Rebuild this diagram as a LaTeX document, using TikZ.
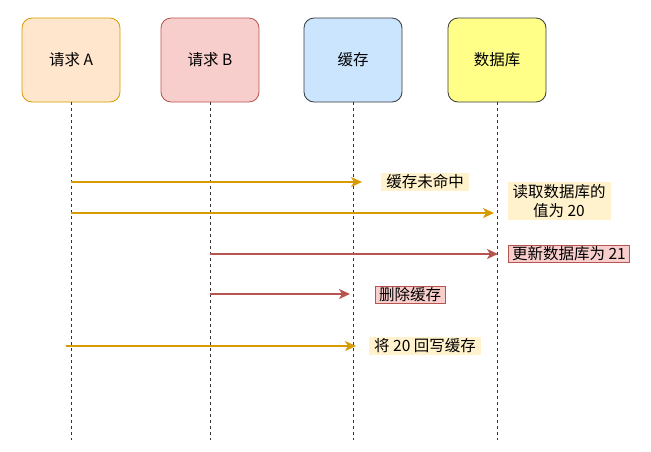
\documentclass[tikz,border=0pt]{standalone}
\usepackage{fontspec}
\setmainfont{Noto Sans CJK SC}
\usetikzlibrary{arrows.meta}
\definecolor{orangefill}{HTML}{FFE6CC}
\definecolor{orangeline}{HTML}{D79B00}
\definecolor{redfill}{HTML}{F8CECC}
\definecolor{redline}{HTML}{B85450}
\definecolor{bluefill}{HTML}{CCE5FF}
\definecolor{yellowfill}{HTML}{FFFF88}
\definecolor{darkline}{HTML}{36393D}
\definecolor{notefill}{HTML}{FFF2CC}
\tikzset{
  actor/.style={draw,rounded corners=10pt,minimum width=98pt,minimum height=84pt,inner sep=0pt,line width=0.8pt},
  lifeline/.style={dashed,dash pattern=on 3pt off 3pt,line width=0.8pt,black!80},
  msgyellow/.style={draw=orangeline,line width=1.5pt,-{Stealth[length=11pt,width=10pt,inset=3pt]}},
  msgred/.style={draw=redline,line width=1.5pt,-{Stealth[length=11pt,width=10pt,inset=3pt]}},
  noteyellow/.style={fill=notefill,inner xsep=5pt,inner ysep=2pt},
  notered/.style={fill=redfill,draw=redline,line width=0.8pt,inner xsep=4pt,inner ysep=1pt}
}
\begin{document}
\begin{tikzpicture}[x=1pt,y=-1pt,font=\fontsize{15.5}{19}\selectfont]
    \useasboundingbox (0,0) rectangle (651,451);
    %参与者
    \node[actor,fill=orangefill,draw=orangeline](reqA) at (71,60){请求 A};
    \node[actor,fill=redfill,draw=redline](reqB) at (210,60){请求 B};
    \node[actor,fill=bluefill,draw=darkline](cache) at (353,60){缓存};
    \node[actor,fill=yellowfill,draw=darkline](db) at (497,60){数据库};
    %生命线
    \coordinate (endA) at (71,440);
    \coordinate (endB) at (210,440);
    \coordinate (endC) at (353,440);
    \coordinate (endD) at (497,440);
    \draw[lifeline](reqA.south)--(endA);
    \draw[lifeline](reqB.south)--(endB);
    \draw[lifeline](cache.south)--(endC);
    \draw[lifeline](db.south)--(endD);
    %消息
    \draw[msgyellow](71,182)--(362,182);
    \node[noteyellow](miss) at (425,182){缓存未命中};
    \draw[msgyellow](71,213)--(494,213);
    \node[noteyellow,align=center,inner ysep=2pt](read) at (559,201){读取数据库的\\值为 20};
    \draw[msgred](210,254)--(498,254);
    \node[notered](update) at (569,254){更新数据库为 21};
    \draw[msgred](210,294)--(350,294);
    \node[notered](delete) at (410,295){删除缓存};
    \draw[msgyellow](66,346)--(356,346);
    \node[noteyellow](writeback) at (425,346){将 20 回写缓存};
\end{tikzpicture}
\end{document}
